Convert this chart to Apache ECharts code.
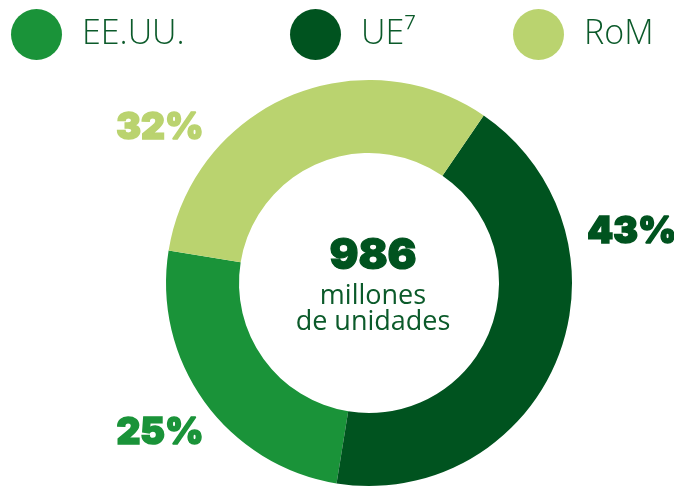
<!DOCTYPE html>
<html>
<head>
<meta charset="utf-8">
<script src="https://cdn.jsdelivr.net/npm/echarts@6/dist/echarts.min.js"></script>
<style>html,body{margin:0;padding:0;background:#fff}#c{width:674px;height:489px}</style>
</head>
<body>
<div id="c"></div>
<script>
const categories = ['EE.UU.', 'UE⁷', 'RoM'];
const shares = [25, 43, 32];
const totalLabel = '986';
const totalUnit = 'millones\nde unidades';

const palette = ['#1a9339', '#00531f', '#bad36f'];
const labelSpots = [[160, 433], [632, 232], [160, 128]];
const legendLeft = [6, 285, 508];
const textColor = '#0b5a2a';
const heavyFont = 'Inter';

const chart = echarts.init(document.getElementById('c'), null, {renderer: 'canvas'});
chart.setOption({
  animation: false,
  color: palette,
  title: {
    text: totalLabel,
    subtext: totalUnit,
    left: 368,
    top: 228,
    textAlign: 'center',
    itemGap: 4,
    textStyle: {fontFamily: heavyFont, fontWeight: 900, fontSize: 43, color: '#00531f', lineHeight: 46,
      textBorderColor: '#00531f', textBorderWidth: 1.2},
    subtextStyle: {fontFamily: 'Open Sans', fontWeight: 400, fontSize: 27, color: textColor, lineHeight: 26}
  },
  legend: categories.map((c, i) => ({
    data: [c],
    left: legendLeft[i],
    top: 4,
    icon: 'circle',
    itemWidth: 51,
    itemHeight: 51,
    itemGap: 0,
    selectedMode: false,
    textStyle: {fontFamily: 'Open Sans', fontWeight: 300, fontSize: 34, color: textColor, padding: [0, 0, 0, 15]}
  })),
  series: [{
    type: 'pie',
    center: [369, 283],
    radius: [130, 203],
    startAngle: 170.8,
    clockwise: false,
    silent: true,
    data: categories.map((c, i) => ({
      name: c,
      value: shares[i],
      label: {textBorderColor: palette[i]}
    })),
    label: {
      show: true,
      position: 'outside',
      formatter: p => p.value + '%',
      fontFamily: heavyFont,
      fontWeight: 900,
      fontSize: 37,
      overflow: 'none',
      color: 'inherit',
      textBorderWidth: 1.5
    },
    labelLine: {show: false},
    labelLayout: p => ({
      x: labelSpots[p.dataIndex][0],
      y: labelSpots[p.dataIndex][1],
      align: 'center',
      verticalAlign: 'middle'
    })
  }]
});
</script>
</body>
</html>
